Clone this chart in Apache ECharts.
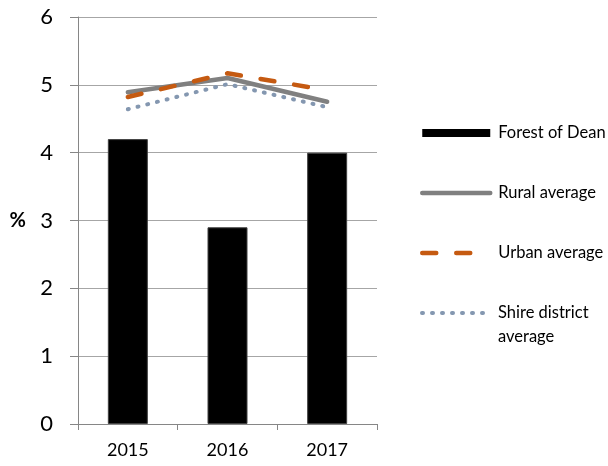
<!DOCTYPE html>
<html>
<head>
<meta charset="utf-8">
<script src="https://cdn.jsdelivr.net/npm/echarts@6/dist/echarts.min.js"></script>
<style>
  html, body { margin: 0; padding: 0; background: #fff; }
  #chart { width: 608px; height: 466px; }
</style>
</head>
<body>
<div id="chart"></div>
<script>
var years = ["2015", "2016", "2017"];
var forestOfDean = [4.2, 2.9, 4.0];
var ruralAvg = [4.89, 5.1, 4.75];
var urbanAvg = [4.82, 5.17, 4.92];
var shireAvg = [4.64, 5.01, 4.67];
var yTicks = { min: 0, max: 6, interval: 1 };

var font = "Lato, 'Noto Sans', sans-serif";
var hideSymbol = { opacity: 0 };
var legendText = { fontSize: 16.5, color: "#000", fontFamily: font, lineHeight: 24, padding: [0, 0, 0, 3] };

var chart = echarts.init(document.getElementById("chart"));
chart.setOption({
  animation: false,
  textStyle: { fontFamily: font },
  grid: { left: 78, right: 231, top: 17, bottom: 42, containLabel: false },
  legend: [
    {
      orient: "vertical",
      left: 415,
      top: 116,
      itemWidth: 68,
      itemHeight: 8,
      itemGap: 36,
      textStyle: legendText,
      data: [
        { name: "Forest of Dean", icon: "rect", itemStyle: { borderWidth: 0 } },
        { name: "Rural average", itemStyle: hideSymbol, lineStyle: { width: 4.5 } },
        { name: "Urban average", itemStyle: hideSymbol, lineStyle: { width: 4.5 } }
      ]
    },
    {
      orient: "vertical",
      left: 415,
      top: 272,
      itemWidth: 68,
      itemHeight: 8,
      textStyle: legendText,
      formatter: function (name) {
        // empty first line keeps the icon level with "Shire district"
        return " \nShire district\naverage";
      },
      data: [
        { name: "Shire district average", itemStyle: hideSymbol, lineStyle: { width: 4 } }
      ]
    }
  ],
  xAxis: {
    type: "category",
    data: years,
    axisLine: { lineStyle: { color: "#868686", width: 1 } },
    axisTick: { show: true, length: 6, lineStyle: { color: "#868686" } },
    axisLabel: { fontSize: 18, color: "#000", margin: 17 }
  },
  yAxis: {
    type: "value",
    min: yTicks.min,
    max: yTicks.max,
    interval: yTicks.interval,
    name: "%",
    nameLocation: "middle",
    nameRotate: 0,
    nameGap: 52,
    nameTextStyle: { fontSize: 20, fontWeight: "bold", color: "#000" },
    axisLine: { show: true, lineStyle: { color: "#868686" } },
    axisTick: { show: true, length: 8, lineStyle: { color: "#868686" } },
    axisLabel: { fontSize: 22, color: "#000", margin: 25 },
    splitLine: { lineStyle: { color: "#a6a6a6", width: 1 } }
  },
  series: [
    {
      name: "Forest of Dean",
      type: "bar",
      data: forestOfDean,
      barWidth: 40,
      itemStyle: { color: "#000", borderColor: "#404040", borderWidth: 1 }
    },
    {
      name: "Rural average",
      type: "line",
      data: ruralAvg,
      symbol: "none",
      lineStyle: { color: "#808080", width: 4.5, cap: "round" },
      itemStyle: { color: "#808080" }
    },
    {
      name: "Urban average",
      type: "line",
      data: urbanAvg,
      symbol: "none",
      lineStyle: { color: "#c55a11", width: 4.5, type: [14, 20], cap: "round" },
      itemStyle: { color: "#c55a11" }
    },
    {
      name: "Shire district average",
      type: "line",
      data: shireAvg,
      symbol: "none",
      lineStyle: { color: "#8497b0", width: 4, type: [1, 9], cap: "round" },
      itemStyle: { color: "#8497b0" }
    }
  ]
});
</script>
</body>
</html>
